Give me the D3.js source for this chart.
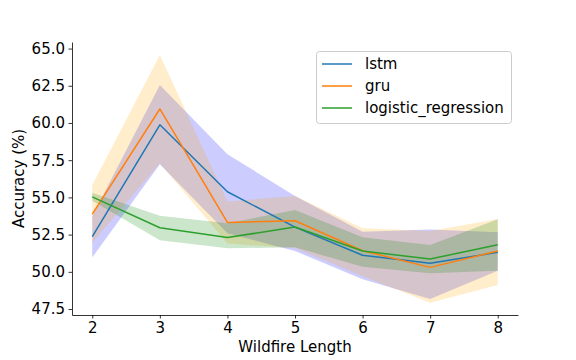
<!DOCTYPE html>
<html>
<head>
<meta charset="utf-8">
<script src="https://cdn.jsdelivr.net/npm/d3@7"></script>
<style>
  html, body { margin: 0; padding: 0; background: #fff; }
  svg { display: block; }
  text { font-family: "DejaVu Sans", sans-serif; }
</style>
</head>
<body>
<svg id="chart" width="576" height="360"></svg>
<script>
// ---- data ----
const lengths = [2, 3, 4, 5, 6, 7, 8];
const seriesNames = ["lstm", "gru", "logistic_regression"];
const lstmMean = [52.36, 59.88, 55.38, 53.00, 51.11, 50.57, 51.31];
const lstmLow  = [50.97, 57.22, 52.60, 51.40, 49.50, 48.17, 50.07];
const lstmHigh = [53.75, 62.55, 57.90, 55.10, 52.70, 52.85, 52.66];
const gruMean  = [53.88, 60.94, 53.32, 53.43, 51.42, 50.30, 51.40];
const gruLow   = [51.95, 57.30, 51.90, 51.60, 49.70, 47.92, 49.11];
const gruHigh  = [55.83, 64.56, 54.72, 55.10, 52.92, 52.74, 53.55];
const lrMean   = [55.04, 52.96, 52.30, 53.01, 51.40, 50.86, 51.82];
const lrLow    = [54.78, 52.12, 51.58, 51.65, 50.34, 49.90, 50.07];
const lrHigh   = [55.31, 53.77, 53.26, 54.15, 52.32, 51.80, 53.53];
const yTicks = [47.5, 50.0, 52.5, 55.0, 57.5, 60.0, 62.5, 65.0];
const xTicks = [2, 3, 4, 5, 6, 7, 8];

const series = [
  { name: seriesNames[0], mean: lstmMean, low: lstmLow, high: lstmHigh, line: "#1f77b4", fill: "blue" },
  { name: seriesNames[1], mean: gruMean,  low: gruLow,  high: gruHigh,  line: "#ff7f0e", fill: "orange" },
  { name: seriesNames[2], mean: lrMean,   low: lrLow,   high: lrHigh,   line: "#2ca02c", fill: "green" }
];

const svg = d3.select("#chart");
const plotL = 72, plotR = 518, plotT = 42, plotB = 315;

const x = d3.scaleLinear().domain([1.7, 8.3]).range([plotL, plotR]);
const y = d3.scaleLinear().domain([47.1, 65.44]).range([plotB, plotT]);

// bands
const area = d3.area()
  .x((d, i) => x(lengths[i]))
  .y0(d => y(d[0]))
  .y1(d => y(d[1]));
const line = d3.line()
  .x((d, i) => x(lengths[i]))
  .y(d => y(d));

series.forEach(s => {
  const pts = s.low.map((v, i) => [v, s.high[i]]);
  svg.append("path")
    .attr("d", area(pts))
    .attr("fill", s.fill)
    .attr("fill-opacity", 0.2)
    .attr("stroke", "none");
});
series.forEach(s => {
  svg.append("path")
    .attr("d", line(s.mean))
    .attr("fill", "none")
    .attr("stroke", s.line)
    .attr("stroke-width", 1.5)
    .attr("stroke-linejoin", "round");
});

// axes
const xAxis = d3.axisBottom(x).tickValues(xTicks).tickFormat(d3.format("d"))
  .tickSize(3.5).tickPadding(3.5).tickSizeOuter(0);
const yAxis = d3.axisLeft(y).tickValues(yTicks).tickFormat(d3.format(".1f"))
  .tickSize(3.5).tickPadding(3.5).tickSizeOuter(0);

const gx = svg.append("g").attr("transform", `translate(0,${plotB})`).call(xAxis);
const gy = svg.append("g").attr("transform", `translate(${plotL},0)`).call(yAxis);
[gx, gy].forEach(g => {
  g.selectAll("text").attr("font-size", 15).attr("fill", "#000")
    .attr("font-family", "DejaVu Sans, sans-serif");
  g.selectAll("line").attr("stroke", "#000").attr("stroke-width", 0.8);
  g.select(".domain").attr("stroke", "#000").attr("stroke-width", 0.8);
});

// axis labels
svg.append("text")
  .attr("x", (plotL + plotR) / 2).attr("y", 352)
  .attr("text-anchor", "middle").attr("font-size", 15)
  .text("Wildfire Length");
svg.append("text")
  .attr("transform", `translate(24,${(plotT + plotB) / 2}) rotate(-90)`)
  .attr("text-anchor", "middle").attr("font-size", 15)
  .text("Accuracy (%)");

// legend
const lg = svg.append("g");
lg.append("rect")
  .attr("x", 316.5).attr("y", 51.5).attr("width", 195).attr("height", 72)
  .attr("rx", 3).attr("fill", "#fff").attr("fill-opacity", 0.8)
  .attr("stroke", "#cccccc").attr("stroke-width", 1);
series.forEach((s, i) => {
  const cy = 64 + i * 22;
  lg.append("line")
    .attr("x1", 322).attr("x2", 352).attr("y1", cy).attr("y2", cy)
    .attr("stroke", s.line).attr("stroke-width", 1.5);
  lg.append("text")
    .attr("x", 365).attr("y", cy).attr("dy", "0.35em")
    .attr("font-size", 15).text(s.name);
});
</script>
</body>
</html>
